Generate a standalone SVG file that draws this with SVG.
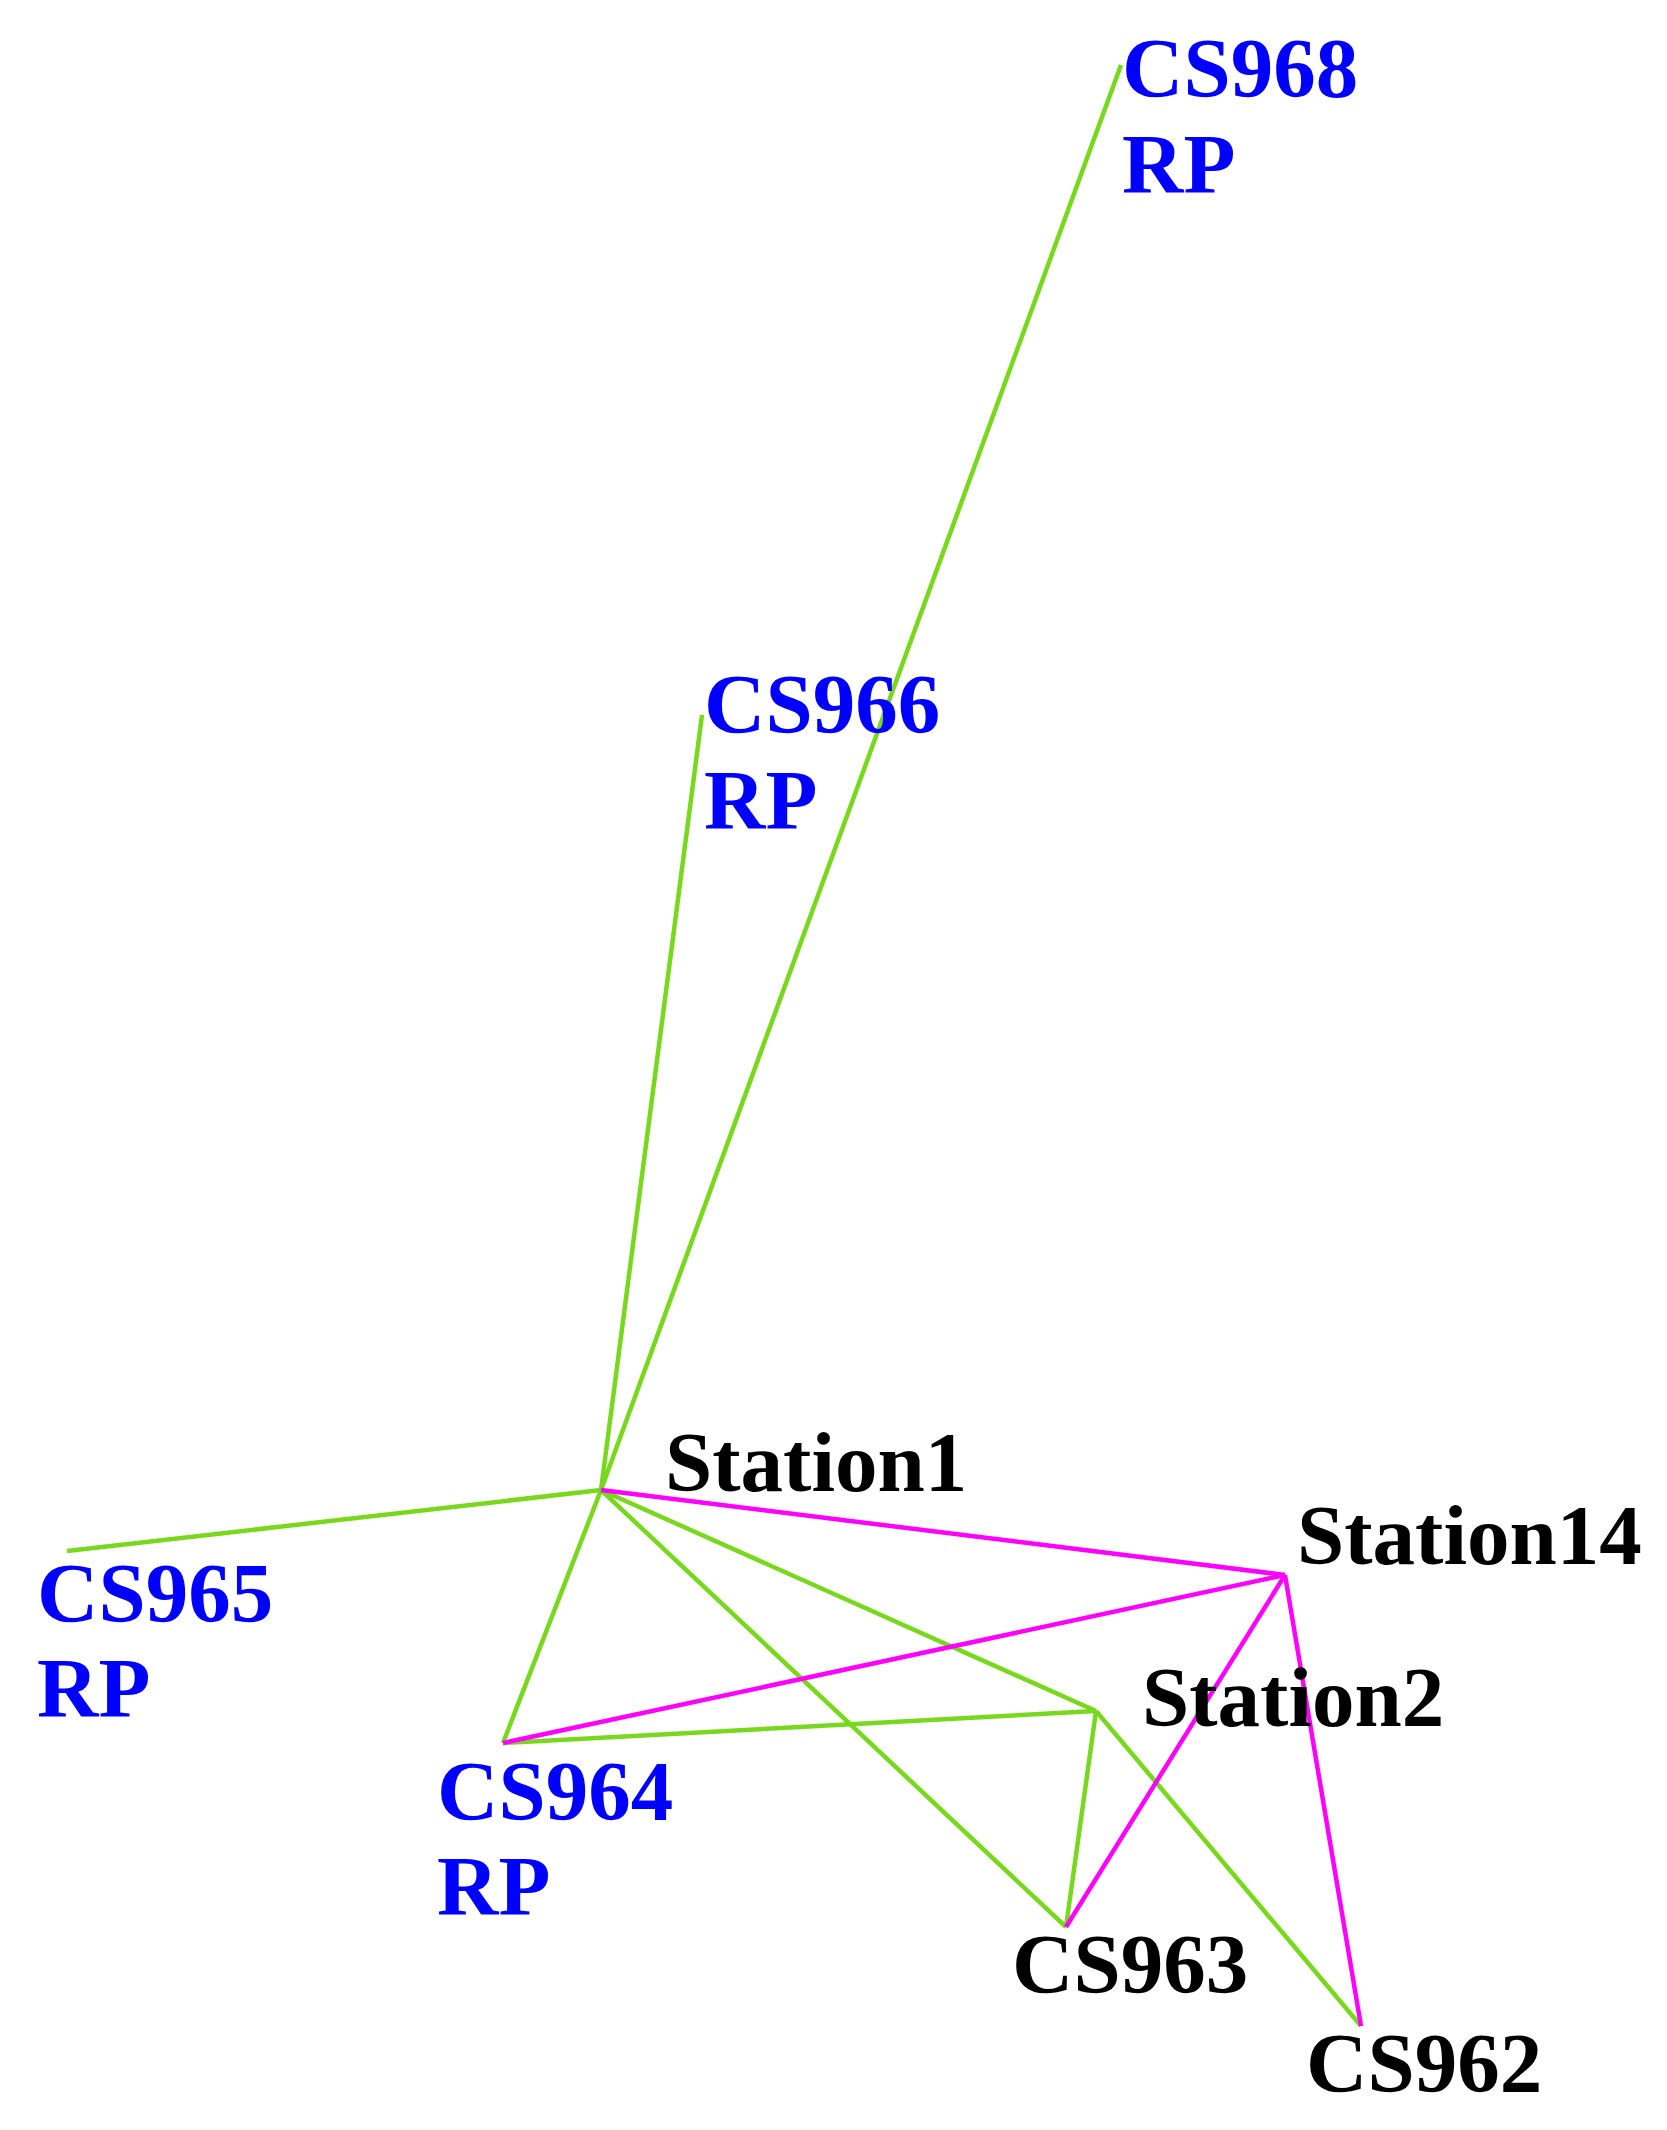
<svg xmlns="http://www.w3.org/2000/svg" width="1667" height="2130" viewBox="0 0 1667 2130">
<style>
.g{stroke:#78d81e;stroke-width:4.5;fill:none}
.m{stroke:#ff00ff;stroke-width:4.5;fill:none}
text{font-family:"Liberation Serif","Times New Roman",serif;font-weight:bold;font-size:85px}
.b{fill:#0000ff}
.k{fill:#000000}
</style>
<rect width="1667" height="2130" fill="#ffffff"/>
<g id="connectors">
<line class="g" x1="601" y1="1490" x2="1121" y2="65"/>
<line class="g" x1="601" y1="1490" x2="702" y2="715"/>
<line class="g" x1="601" y1="1490" x2="67" y2="1551"/>
<line class="g" x1="601" y1="1490" x2="503" y2="1743"/>
<line class="g" x1="601" y1="1490" x2="1066" y2="1927"/>
<line class="g" x1="601" y1="1490" x2="1096" y2="1711"/>
<line class="g" x1="1096" y1="1711" x2="503" y2="1743"/>
<line class="g" x1="1096" y1="1711" x2="1066" y2="1927"/>
<line class="g" x1="1096" y1="1711" x2="1361" y2="2026"/>
<line class="m" x1="601" y1="1490" x2="1285" y2="1575"/>
<line class="m" x1="1285" y1="1575" x2="503" y2="1743"/>
<line class="m" x1="1285" y1="1575" x2="1066" y2="1927"/>
<line class="m" x1="1285" y1="1575" x2="1361" y2="2026"/>
</g>
<g id="CS968"><text class="b" x="1122" y="97">CS968</text><text class="b" x="1122" y="193">RP</text></g>
<g id="CS966"><text class="b" x="704" y="733">CS966</text><text class="b" x="704" y="829">RP</text></g>
<g id="CS965"><text class="b" x="37" y="1622">CS965</text><text class="b" x="37" y="1717">RP</text></g>
<g id="CS964"><text class="b" x="437" y="1820">CS964</text><text class="b" x="437" y="1915">RP</text></g>
<g id="Station1"><text class="k" x="665" y="1491">Station1</text></g>
<g id="Station14"><text class="k" x="1297" y="1564">Station14</text></g>
<g id="Station2"><text class="k" x="1142" y="1726">Station2</text></g>
<g id="CS963"><text class="k" x="1012" y="1993">CS963</text></g>
<g id="CS962"><text class="k" x="1306" y="2092">CS962</text></g>
</svg>
